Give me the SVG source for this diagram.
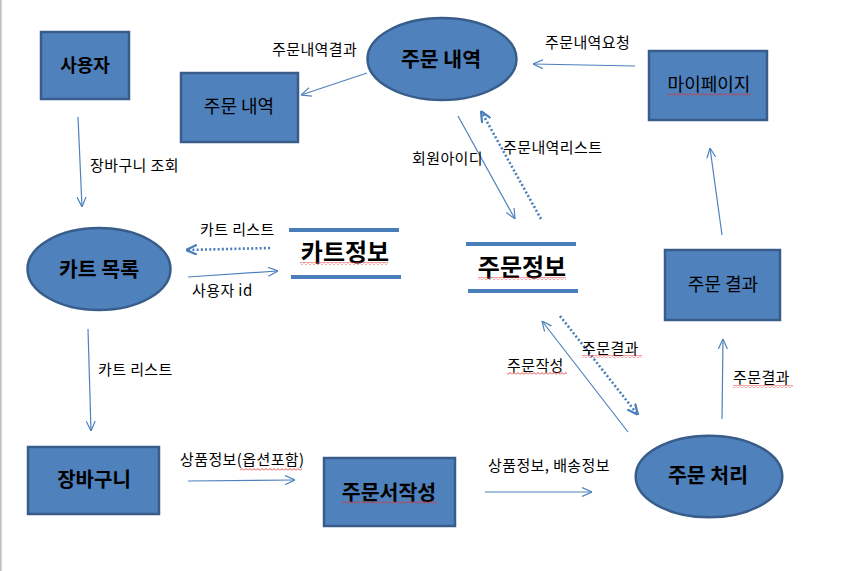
<svg xmlns="http://www.w3.org/2000/svg" width="859" height="571" viewBox="0 0 859 571">
<style>
.box{fill:#4f81bd;stroke:#385d8a;stroke-width:2.5}
.node{font-family:"Noto Sans CJK KR","Liberation Sans",sans-serif;fill:#000;text-anchor:middle}
.b{font-weight:bold}
.lbl{font-family:"Noto Sans CJK KR","Liberation Sans",sans-serif;font-size:15px;letter-spacing:0.4px;fill:#000}
.ln{stroke:#4f81bd;stroke-width:1.2;fill:none;marker-end:url(#ah)}
.dt{stroke:#4a7ebb;stroke-width:2.6;fill:none;stroke-dasharray:2 2.2;marker-end:url(#ahd)}
.store{stroke:#4a7ebb;stroke-width:4}
.sq{fill:url(#wavy)}
</style>
<defs>
<marker id="ah" viewBox="0 0 10 10" refX="10" refY="5" markerWidth="10" markerHeight="10" markerUnits="userSpaceOnUse" orient="auto">
<path d="M0,0.5 L10,5 L0,9.5" fill="none" stroke="#4f81bd" stroke-width="1.2"/>
</marker>
<marker id="ahd" viewBox="0 0 10 10" refX="10" refY="5" markerWidth="11" markerHeight="11" markerUnits="userSpaceOnUse" orient="auto">
<path d="M0,0.5 L10,5 L0,9.5" fill="none" stroke="#4a7ebb" stroke-width="2"/>
</marker>
<pattern id="wavy" x="0" y="0" width="4" height="3" patternUnits="userSpaceOnUse">
<path d="M0,2.5 L2,0.5 L4,2.5" fill="none" stroke="#e03030" stroke-width="0.9"/>
</pattern>
</defs>
<rect width="859" height="571" fill="#fff"/>
<line x1="0.8" y1="0" x2="0.8" y2="571" stroke="#c0c0c0" stroke-width="1.6"/>

<g id="connectors">
<line class="ln" x1="78" y1="117" x2="82" y2="207"/>
<line class="ln" x1="367" y1="73" x2="301" y2="95"/>
<line class="ln" x1="635" y1="66" x2="533" y2="64"/>
<line class="ln" x1="458" y1="116" x2="515" y2="219"/>
<line class="dt" x1="541" y1="219" x2="481" y2="111"/>
<line class="dt" x1="270" y1="248" x2="186" y2="250"/>
<line class="ln" x1="188" y1="277" x2="278" y2="271"/>
<line class="ln" x1="88" y1="329" x2="91" y2="431"/>
<line class="ln" x1="188" y1="481" x2="295" y2="480"/>
<line class="ln" x1="485" y1="492" x2="592" y2="492"/>
<line class="ln" x1="628" y1="432" x2="542" y2="321"/>
<line class="dt" x1="560" y1="316" x2="638" y2="415"/>
<line class="ln" x1="722" y1="419" x2="723" y2="339"/>
<line class="ln" x1="722" y1="235" x2="710" y2="148"/>
<text class="lbl" x="90" y="171">장바구니 조회</text>
<text class="lbl" x="272" y="55">주문내역결과</text>
<text class="lbl" x="545" y="48">주문내역요청</text>
<text class="lbl" x="412" y="164">회원아이디</text>
<text class="lbl" x="503" y="153">주문내역리스트</text>
<text class="lbl" x="200" y="235">카트 리스트</text>
<text class="lbl" x="192" y="296">사용자 id</text>
<text class="lbl" x="98" y="375">카트 리스트</text>
<text class="lbl" x="180" y="465">상품정보(옵션포함)</text>
<rect class="sq" x="240" y="468" width="62" height="3"/>
<text class="lbl" x="488" y="471">상품정보, 배송정보</text>
<text class="lbl" x="507" y="371">주문작성</text>
<rect class="sq" x="507" y="372" width="60" height="3"/>
<text class="lbl" x="582" y="354">주문결과</text>
<rect class="sq" x="582" y="355" width="60" height="3"/>
<text class="lbl" x="733" y="383">주문결과</text>
<rect class="sq" x="733" y="385" width="60" height="3"/>
</g>

<g id="user">
<rect class="box" x="41" y="32" width="88" height="67"/>
<text class="node b" x="85" y="71.5" font-size="18">사용자</text>
</g>
<g id="order-history-box">
<rect class="box" x="181" y="73" width="117" height="69"/>
<text class="node" x="239" y="113" font-size="18">주문 내역</text>
</g>
<g id="order-history">
<ellipse class="box" cx="442" cy="59" rx="74.5" ry="41"/>
<text class="node b" x="441" y="66.5" font-size="20.5">주문 내역</text>
</g>
<g id="mypage">
<rect class="box" x="649" y="51" width="118" height="69"/>
<text class="node" x="709" y="91" font-size="18">마이페이지</text>
<rect class="sq" x="667" y="93" width="84" height="3"/>
</g>
<g id="cart-list">
<ellipse class="box" cx="99" cy="269" rx="71.5" ry="41"/>
<text class="node b" x="99" y="276.5" font-size="20.5">카트 목록</text>
</g>
<g id="cart-info">
<line class="store" x1="289" y1="230" x2="399" y2="230"/>
<line class="store" x1="291" y1="277" x2="401" y2="277"/>
<text class="node b" x="345" y="261" font-size="24">카트정보</text>
<rect class="sq" x="300" y="262" width="88" height="3"/>
</g>
<g id="order-info">
<line class="store" x1="466" y1="244" x2="576" y2="244"/>
<line class="store" x1="468" y1="291" x2="578" y2="291"/>
<text class="node b" x="522" y="276" font-size="24">주문정보</text>
<rect class="sq" x="478" y="277" width="88" height="3"/>
</g>
<g id="order-result">
<rect class="box" x="665" y="250" width="115" height="70"/>
<text class="node" x="723" y="290.5" font-size="18">주문 결과</text>
</g>
<g id="cart">
<rect class="box" x="28" y="447" width="131" height="67"/>
<text class="node b" x="94" y="486.5" font-size="20">장바구니</text>
</g>
<g id="order-write">
<rect class="box" x="324" y="458" width="131" height="68"/>
<text class="node b" x="389" y="499.5" font-size="20.5">주문서작성</text>
<rect class="sq" x="342" y="501" width="95" height="3"/>
</g>
<g id="order-process">
<ellipse class="box" cx="709" cy="476.5" rx="73.3" ry="40.8"/>
<text class="node b" x="708" y="482.5" font-size="20.5">주문 처리</text>
</g>
</svg>
